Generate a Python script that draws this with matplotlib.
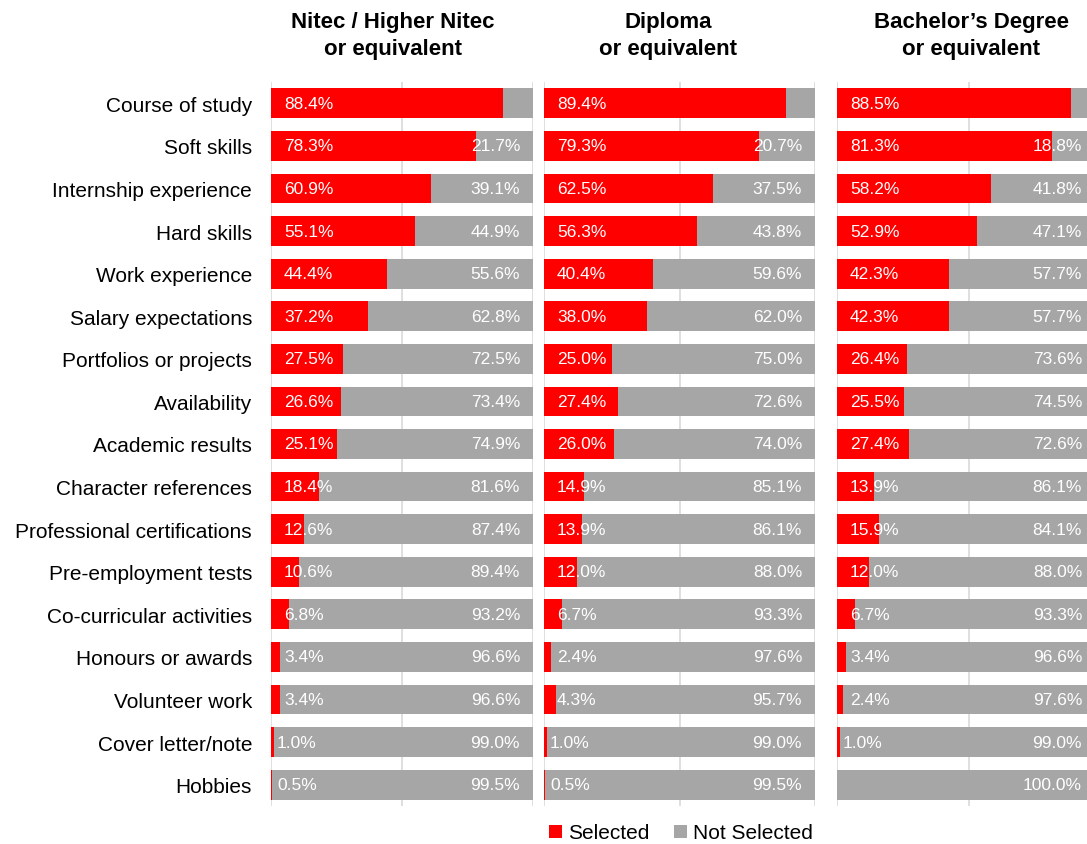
#!/usr/bin/env python3
"""Stacked bar panels: what employers look at, by qualification level."""

import matplotlib.pyplot as plt
from matplotlib.patches import Patch

categories = [
    "Course of study", "Soft skills", "Internship experience", "Hard skills",
    "Work experience", "Salary expectations", "Portfolios or projects",
    "Availability", "Academic results", "Character references",
    "Professional certifications", "Pre-employment tests",
    "Co-curricular activities", "Honours or awards", "Volunteer work",
    "Cover letter/note", "Hobbies",
]

panel_titles = [
    "Nitec / Higher Nitec\nor equivalent",
    "Diploma\nor equivalent",
    "Bachelor\u2019s Degree\nor equivalent",
]

nitec_selected = [88.4, 78.3, 60.9, 55.1, 44.4, 37.2, 27.5, 26.6, 25.1, 18.4,
                  12.6, 10.6, 6.8, 3.4, 3.4, 1.0, 0.5]
nitec_not_selected = [11.6, 21.7, 39.1, 44.9, 55.6, 62.8, 72.5, 73.4, 74.9, 81.6,
                      87.4, 89.4, 93.2, 96.6, 96.6, 99.0, 99.5]

diploma_selected = [89.4, 79.3, 62.5, 56.3, 40.4, 38.0, 25.0, 27.4, 26.0, 14.9,
                    13.9, 12.0, 6.7, 2.4, 4.3, 1.0, 0.5]
diploma_not_selected = [10.6, 20.7, 37.5, 43.8, 59.6, 62.0, 75.0, 72.6, 74.0, 85.1,
                        86.1, 88.0, 93.3, 97.6, 95.7, 99.0, 99.5]

degree_selected = [88.5, 81.3, 58.2, 52.9, 42.3, 42.3, 26.4, 25.5, 27.4, 13.9,
                   15.9, 12.0, 6.7, 3.4, 2.4, 1.0, 0.0]
degree_not_selected = [11.5, 18.8, 41.8, 47.1, 57.7, 57.7, 73.6, 74.5, 72.6, 86.1,
                       84.1, 88.0, 93.3, 96.6, 97.6, 99.0, 100.0]

panels = [
    (nitec_selected, nitec_not_selected),
    (diploma_selected, diploma_not_selected),
    (degree_selected, degree_not_selected),
]

RED = "#FF0000"
GRAY = "#A6A6A6"
GRID = "#D9D9D9"

W, H = 1087, 845
DPI = 100

# axes placement in pixels: (left, width), shared top/bottom
AX_SPANS = [(271, 262), (544, 271), (837, 264)]
AX_TOP, AX_BOTTOM = 83, 807
TITLE_X = [393, 668, 971]
RIGHT_PAD = [13, 13, 19]

plt.rcParams["font.family"] = ["Liberation Sans", "DejaVu Sans"]

fig = plt.figure(figsize=(W / DPI, H / DPI), dpi=DPI)

n = len(categories)
ypos = list(range(n))

for k, ((sel, nsel), (left, width)) in enumerate(zip(panels, AX_SPANS)):
    ax = fig.add_axes([left / W, (H - AX_BOTTOM) / H, width / W,
                       (AX_BOTTOM - AX_TOP) / H])
    for gx in (0, 50, 100):
        ax.axvline(gx, color=GRID, lw=1.2, zorder=0)

    ax.barh(ypos, sel, height=0.7, color=RED, zorder=2)
    ax.barh(ypos, nsel, left=sel, height=0.7, color=GRAY, zorder=2)

    for i in ypos:
        if sel[i] > 0:
            pad = 6 if sel[i] < 2 else 13
            ax.annotate(f"{sel[i]:.1f}%", xy=(0, i), xytext=(pad * 72 / DPI, 0),
                        textcoords="offset points", ha="left", va="center",
                        color="white", fontsize=12.5, zorder=3)
        if nsel[i] >= 15:
            ax.annotate(f"{nsel[i]:.1f}%", xy=(100, i),
                        xytext=(-RIGHT_PAD[k] * 72 / DPI, 0),
                        textcoords="offset points", ha="right", va="center",
                        color="white", fontsize=12.5, zorder=3)

    ax.set_xlim(0, 100)
    ax.set_ylim(n - 0.5, -0.5)
    ax.set_xticks([])
    for spine in ax.spines.values():
        spine.set_visible(False)

    if k == 0:
        ax.set_yticks(ypos)
        ax.set_yticklabels(categories, fontsize=15)
        ax.tick_params(axis="y", length=0, pad=19 * 72 / DPI)
    else:
        ax.set_yticks([])

    fig.text(TITLE_X[k] / W, 1 - 36 / H, panel_titles[k], ha="center",
             va="center", fontsize=16, fontweight="bold", linespacing=1.35)

handles = [Patch(facecolor=RED, label="Selected"),
           Patch(facecolor=GRAY, label="Not Selected")]
fig.legend(handles=handles, loc="center", bbox_to_anchor=(681 / W, 1 - 834 / H),
           ncol=2, frameon=False, fontsize=15, handlelength=0.6,
           handleheight=0.6, handletextpad=0.3, columnspacing=1.2,
           borderpad=0, borderaxespad=0)

fig.savefig("out.png", dpi=DPI)
